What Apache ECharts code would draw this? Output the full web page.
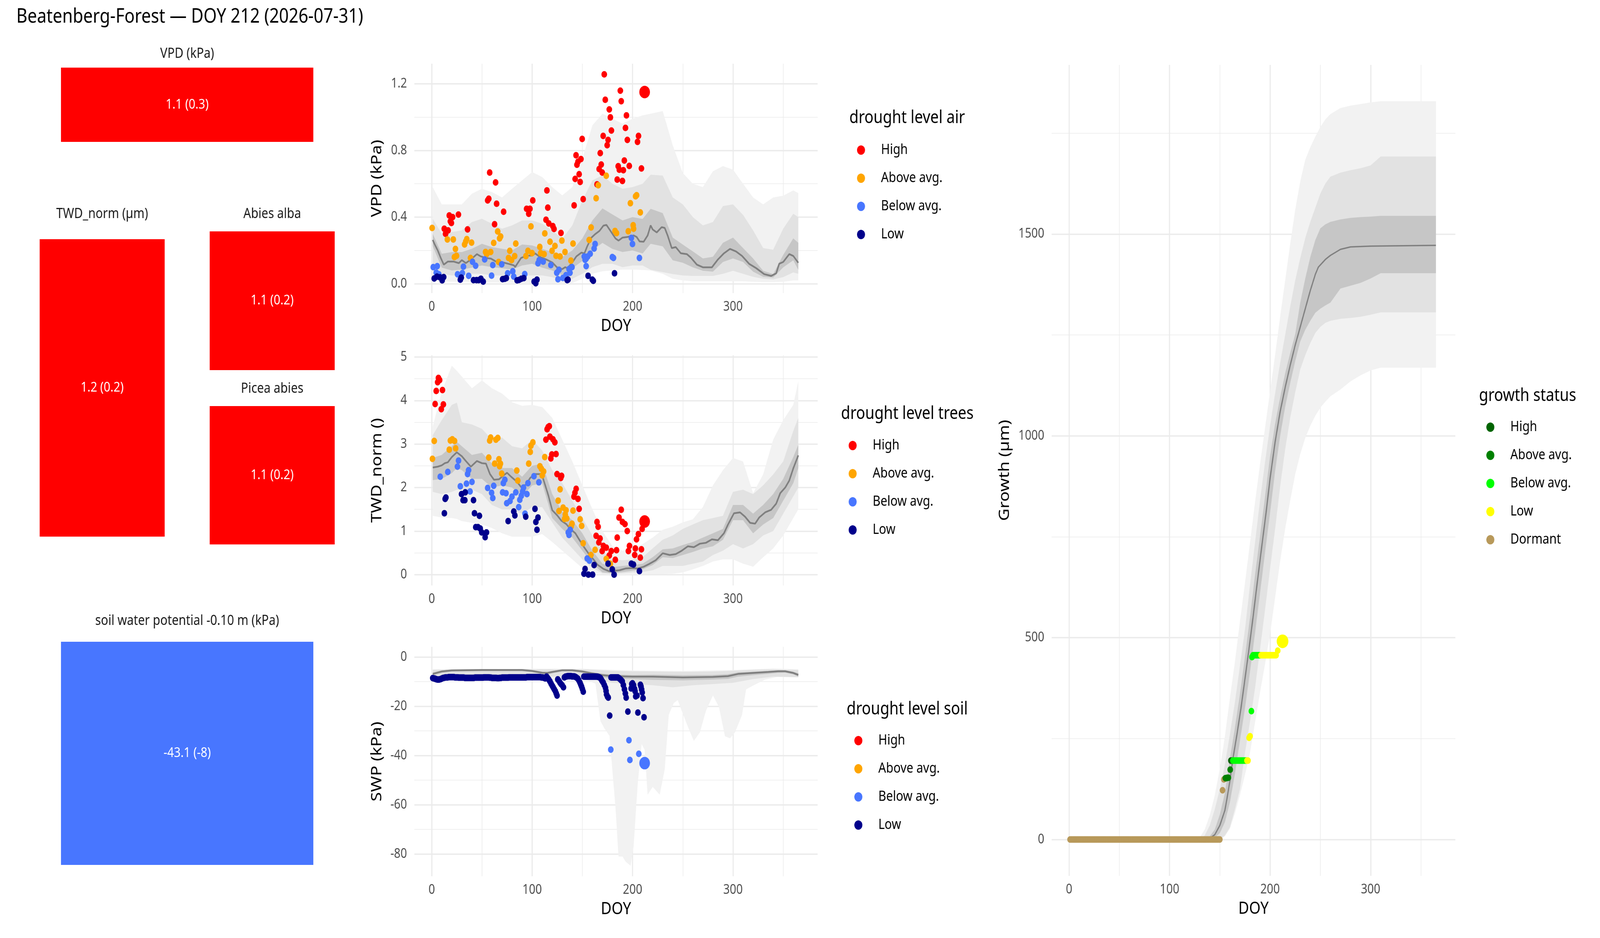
<!DOCTYPE html>
<html>
<head>
<meta charset="utf-8">
<title>Beatenberg-Forest DOY 212</title>
<script src="https://cdn.jsdelivr.net/npm/echarts@6/dist/echarts.min.js"></script>
<style>
  html, body { margin: 0; padding: 0; background: #fff; overflow: hidden; }
  #chart { width: 4800px; height: 2400px; transform-origin: 0 0; }
</style>
</head>
<body>
<div id="chart"></div>
<script type="text/javascript">
// ---------------- data ----------------
var mainTitle = 'Beatenberg-Forest \u2014 DOY 212 (2026-07-31)';
var levelNames = ['High', 'Above avg.', 'Below avg.', 'Low'];
var levelColors = ['#FF0000', '#FFA500', '#4876FF', '#00008B'];
var growthNames = ['High', 'Above avg.', 'Below avg.', 'Low', 'Dormant'];
var growthColors = ['#006400', '#008000', '#00FF00', '#FFFF00', '#B8995A'];

// tiles (left block)
var tileTitles = ['VPD (kPa)', 'TWD_norm (\u00b5m)', 'Abies alba', 'Picea abies', 'soil water potential -0.10 m (kPa)'];
var tileTexts = ['1.1 (0.3)', '1.2 (0.2)', '1.1 (0.2)', '1.1 (0.2)', '-43.1 (-8)'];
var tileColors = ['#FF0000', '#FF0000', '#FF0000', '#FF0000', '#4876FF'];

// tick values
var doyTicks = [0, 100, 200, 300];
var doyMinor = [50, 150, 250, 350];
var vpdTicks = [0, 0.4, 0.8, 1.2], vpdMinor = [0.2, 0.6, 1.0];
var twdTicks = [0, 1, 2, 3, 4, 5], twdMinor = [0.5, 1.5, 2.5, 3.5, 4.5];
var swpTicks = [-80, -60, -40, -20, 0], swpMinor = [-70, -50, -30, -10];
var grTicks = [0, 500, 1000, 1500], grMinor = [250, 750, 1250, 1750];

// VPD points [doy, kPa]
var vpdHigh = [[12.5,0.33],[13.8,0.30],[16.3,0.32],[17.5,0.41],[18.6,0.375],[19.6,0.365],[20.8,0.40],[26.6,0.415],[35.7,0.326],
  [55.7,0.50],[56.8,0.51],[57.7,0.667],[62.6,0.357],[63.6,0.608],[64.6,0.48],[71.6,0.432],
  [94.5,0.45],[96.6,0.42],[97.8,0.45],[100.6,0.50],[113.8,0.384],[114.7,0.56],[115.6,0.457],[116.6,0.362],[120.6,0.346],[121.8,0.329],[128.7,0.305],
  [141.8,0.47],[142.8,0.629],[143.7,0.771],[144.6,0.714],[145.6,0.732],[146.8,0.657],[147.8,0.611],[148.6,0.748],[149.8,0.869],[150.8,0.508],
  [164.6,0.596],[166.7,0.688],[167.8,0.784],[168.8,0.715],[169.8,0.667],[170.7,0.887],[171.8,1.256],[172.8,1.104],[174.7,0.831],[175.6,0.863],[176.8,1.046],[177.9,0.998],[178.9,0.919],
  [184.7,0.625],[185.7,0.705],[186.8,0.684],[187.8,1.158],[188.7,1.095],[189.9,0.617],[190.8,0.681],[191.8,0.739],[192.9,0.935],[193.9,1.01],[194.8,0.863],[196.7,0.707],
  [204.9,0.851],[205.9,0.887],[208.8,0.692]];
var vpdAbove = [[0.4,0.335],[15.6,0.266],[21.5,0.266],[22.6,0.16],[23.6,0.209],[24.7,0.168],[32.7,0.236],[33.9,0.254],[34.9,0.268],[38.6,0.155],[39.7,0.247],
  [53.6,0.191],[54.7,0.178],[58.7,0.191],[61.7,0.245],[65.7,0.314],[66.6,0.131],[67.6,0.272],[68.6,0.284],
  [76.5,0.155],[77.7,0.198],[79.5,0.142],[82.6,0.166],[83.7,0.241],[93.8,0.166],[95.8,0.198],[98.8,0.344],[99.9,0.184],
  [107.6,0.221],[108.5,0.184],[111.9,0.178],[112.6,0.302],[117.8,0.252],[119.8,0.198],[122.7,0.227],[123.8,0.168],[127.8,0.164],[129.6,0.259],[132.7,0.191],[138.6,0.139],[140.7,0.241],
  [156.8,0.263],[158.7,0.338],[163.7,0.513],[165.8,0.591],[173.8,0.648],[182.5,0.317],[184,0.304],[195.7,0.315],[197.8,0.483],[200.6,0.351],[201,0.33],[203,0.525],[204,0.531],[207.7,0.428]];
var vpdBelow = [[1.5,0.10],[4.5,0.067],[5.5,0.106],[7.1,0.057],[25.7,0.057],[30.5,0.064],[31.6,0.103],[36.8,0.048],[40.6,0.132],[43.7,0.108],
  [52.7,0.146],[59.6,0.049],[60.8,0.112],[69.7,0.117],[75.6,0.063],[80.7,0.075],[81.7,0.043],[92.6,0.058],
  [105.8,0.123],[107,0.142],[111,0.133],[118.6,0.112],[124.5,0.066],[125.7,0.027],[126.7,0.084],[130.6,0.035],[133.7,0.052],[136.7,0.088],[137.7,0.066],[139.7,0.10],
  [151.9,0.164],[152.7,0.144],[153.8,0.151],[153.8,0.106],[155.3,0.164],[157.8,0.18],[161.7,0.211],[162.7,0.239],[179.8,0.16],[181,0.155],[198.8,0.275],[199.9,0.239],[206.8,0.155]];
var vpdLow = [[2.5,0.032],[5.2,0.043],[8.2,0.039],[10.4,0.021],[11.9,0.04],[28.5,0.025],[29.4,0.037],[41.6,0.022],[44.6,0.022],[46.8,0.022],[49,0.03],[51.3,0.013],
  [70.6,0.028],[72.8,0.03],[74.3,0.034],[85,0.021],[86.9,0.023],[89.2,0.03],[91.7,0.034],[102,0.013],[103.6,0.003],[104.8,0.025],
  [134.9,0.022],[135.7,0.025],[155.7,0.048],[159.9,0.025],[160.9,0.018],[182,0.063]];
var vpdToday = [[212,1.15]];

// VPD climatology: median and bands
var vpdMedDoy = [1,3,6,9,12,16,22,27,30,34,39,45,49,54,59,64,71,77,82,83,89,95,100,103,108,114,120,125,130,133,135,140,144,149,152,155,159,163,167,171,174,178,183,186,190,195,201,204,207,211,215,218,220,224,229,232,235,239,243,248,254,258,264,270,279,285,291,297,303,309,316,323,331,338,343,346,350,356,360,365];
var vpdMed = [0.263,0.236,0.20,0.155,0.115,0.133,0.133,0.124,0.142,0.124,0.146,0.178,0.164,0.155,0.151,0.133,0.128,0.119,0.11,0.10,0.155,0.169,0.169,0.182,0.16,0.146,0.128,0.097,0.088,0.10,0.093,0.128,0.164,0.187,0.182,0.227,0.277,0.299,0.317,0.349,0.353,0.317,0.272,0.259,0.277,0.281,0.29,0.281,0.254,0.252,0.29,0.35,0.326,0.308,0.34,0.335,0.288,0.214,0.22,0.183,0.178,0.157,0.115,0.099,0.099,0.146,0.183,0.209,0.194,0.167,0.12,0.094,0.058,0.047,0.063,0.12,0.131,0.178,0.167,0.126];
var vpdBandDoy = [1,10,20,30,40,50,60,70,80,90,100,110,120,130,140,150,160,170,180,190,200,210,218,230,240,250,260,270,280,290,300,310,320,330,340,350,360,365];
var vpdInHi = [0.30,0.18,0.19,0.19,0.21,0.24,0.22,0.21,0.20,0.236,0.23,0.21,0.19,0.16,0.20,0.272,0.38,0.452,0.416,0.38,0.40,0.389,0.45,0.424,0.277,0.235,0.194,0.152,0.162,0.246,0.277,0.214,0.152,0.078,0.058,0.173,0.272,0.246];
var vpdInLo = [0.227,0.097,0.08,0.085,0.097,0.11,0.10,0.093,0.085,0.11,0.12,0.097,0.08,0.052,0.093,0.137,0.20,0.245,0.209,0.191,0.20,0.182,0.24,0.225,0.141,0.126,0.099,0.078,0.073,0.131,0.152,0.131,0.073,0.042,0.037,0.099,0.141,0.084];
var vpdMidHi = [0.39,0.30,0.31,0.32,0.37,0.39,0.36,0.33,0.35,0.38,0.38,0.36,0.32,0.27,0.35,0.50,0.62,0.65,0.60,0.57,0.58,0.60,0.654,0.649,0.518,0.476,0.40,0.35,0.37,0.466,0.476,0.413,0.32,0.214,0.204,0.33,0.42,0.40];
var vpdMidLo = [0.09,0.06,0.05,0.05,0.06,0.06,0.05,0.05,0.04,0.05,0.05,0.05,0.04,0.02,0.03,0.06,0.10,0.12,0.12,0.10,0.11,0.11,0.084,0.07,0.058,0.05,0.047,0.047,0.047,0.06,0.078,0.06,0.042,0.03,0.026,0.04,0.068,0.06];
var vpdOutHi = [0.58,0.476,0.476,0.476,0.54,0.57,0.55,0.518,0.57,0.62,0.67,0.64,0.58,0.53,0.58,0.75,0.95,1.02,0.99,0.96,0.99,1.01,1.02,1.036,0.83,0.664,0.60,0.58,0.675,0.706,0.685,0.60,0.518,0.476,0.518,0.528,0.56,0.544];
var vpdOutLo = [0.02,0.015,0.012,0.012,0.012,0.01,0.008,0.008,0.006,0.005,0.005,0.005,0.003,0.0,0.005,0.03,0.06,0.075,0.08,0.085,0.085,0.083,0.08,0.06,0.03,0.02,0.015,0.015,0.015,0.015,0.015,0.015,0.012,0.01,0.01,0.012,0.02,0.02];

// TWD points [doy, TWD_norm]
var twdHigh = [[3.4,3.92],[4.5,4.22],[5.9,4.42],[6.7,4.52],[7.9,4.47],[9.5,3.80],[10.7,4.24],[11.6,3.91],
  [113.7,3.10],[114.9,3.34],[115.9,3.39],[117.1,3.41],[117.7,3.17],[118.6,2.67],[119.6,2.76],[120.7,3.11],[122.6,3.04],[123.8,2.77],[124.8,2.31],[128.5,2.22],[129.3,2.27],
  [141.6,1.79],[142.6,1.88],[143.8,1.97],[145.6,1.74],[146.8,1.51],
  [163.7,0.89],[164.6,1.21],[165.7,1.10],[166.4,0.74],[167.6,0.83],[169.7,0.54],[170.9,0.66],[173.8,0.62],[176.8,0.44],[178.8,0.54],[182.8,0.34],[184,0.56],[184.7,0.85],
  [186.5,1.31],[188.7,1.49],[189.9,1.21],[192.4,1.16],[194.7,1.00],[195.8,0.54],[196.9,0.66],[202.1,0.45],[202.8,0.60],[203.9,0.81],[205.8,0.93],[207.7,0.39],[208.8,0.58],[209.5,1.05]];
var twdAbove = [[0.7,2.66],[2.5,3.07],[17.5,2.87],[18.6,3.08],[20.5,3.11],[22.7,3.07],[23.8,2.90],
  [56.8,2.69],[57.7,3.08],[58.7,3.15],[62.7,2.55],[63.9,3.10],[65.8,3.14],[66.9,2.65],[67.6,2.49],[68.4,2.55],[69.7,2.32],
  [84.7,2.39],[85.7,2.16],[96.6,2.55],[98.1,2.82],[98.8,2.96],[100.7,3.04],[107.7,2.49],[109.2,2.43],[110,2.28],[111.4,2.37],[112.6,2.70],
  [125.9,1.70],[126.7,1.46],[127.8,1.96],[130.8,1.54],[132.2,1.28],[133,1.38],[133.7,1.48],[134.5,1.29],[138.9,1.11],[139.7,1.17],[140.7,1.47],[147.8,1.27],[149.3,1.12],[150.8,0.72],
  [158.5,0.45],[162.7,0.57],[173.8,0.36],[177.9,0.25]];
var twdBelow = [[8.5,2.25],[16,2.36],[25.6,2.48],[26.7,2.62],[28.5,2.03],[34.6,2.09],[35.7,2.31],[36.7,2.40],[38.2,1.91],[40.1,2.13],
  [55.7,1.99],[59.6,1.88],[60.8,1.76],[61.7,2.04],[70.6,1.89],[71.3,2.10],[72.8,2.18],[74,1.87],[74.7,1.64],[78,1.69],[79.9,1.79],[83.7,1.89],
  [86.6,1.55],[87.7,1.72],[89.2,1.81],[90.6,1.91],[91.4,2.0],[92.9,1.40],[94.8,1.85],[95.8,2.10],[101.8,2.26],[106.7,2.12],
  [136,0.97],[136.7,0.91],[137.9,1.03],[154.8,0.37],[157,0.32]];
var twdLow = [[12.6,1.41],[13.4,1.74],[14.1,1.77],[29.7,1.85],[31.2,1.71],[33,1.71],[33.4,1.89],[41.6,1.71],[42.6,1.41],[43.8,1.09],[46.1,1.09],[47.5,1.35],[48.3,1.06],[49.8,0.97],[53.2,0.86],[54.5,0.97],
  [76.1,1.23],[81.7,1.45],[82.8,1.36],[93.6,1.33],[102.8,1.51],[103.7,1.21],[104.8,1.03],[105.8,1.31],
  [151.6,0.02],[152.7,0.13],[156,0.0],[160.2,0.0],[161.7,0.22],[175.6,0.25],[179.8,0.12],[181.6,0.0],[198.8,0.25],[200.9,0.23],[206.8,0.08]];
var twdToday = [[212,1.22]];

var twdMedDoy = [1,6,10,13,16,20,25,30,34,39,45,50,54,58,62,67,71,75,79,85,89,94,98,103,109,111,116,120,125,129,134,138,143,147,152,156,161,165,171,177,183,187,193,199,205,211,217,223,230,237,243,249,255,261,267,273,279,285,291,295,301,307,312,317,322,326,332,338,343,347,352,356,360,365];
var twdMed = [2.46,2.48,2.51,2.56,2.58,2.70,2.81,2.72,2.61,2.48,2.61,2.56,2.55,2.31,2.18,2.19,2.27,2.34,2.25,2.13,2.01,2.07,2.22,2.31,2.31,2.20,1.83,1.48,1.36,1.24,1.16,1.05,0.95,0.80,0.62,0.49,0.35,0.23,0.13,0.075,0.09,0.10,0.14,0.15,0.14,0.18,0.25,0.33,0.49,0.45,0.47,0.55,0.65,0.63,0.71,0.73,0.81,0.79,0.95,1.15,1.41,1.43,1.33,1.19,1.17,1.31,1.43,1.49,1.63,1.87,2.00,2.16,2.44,2.74];
var twdBandDoy = [1,10,20,25,30,40,50,60,70,80,90,100,110,120,130,140,150,160,170,180,190,200,210,220,230,240,250,260,270,280,290,300,310,320,330,340,350,360,365];
var twdInHi = [2.68,2.75,2.95,3.05,2.95,2.75,2.80,2.55,2.45,2.45,2.25,2.50,2.55,1.85,1.45,1.25,0.95,0.55,0.25,0.17,0.20,0.22,0.25,0.40,0.58,0.60,0.68,0.75,0.85,0.95,1.05,1.60,1.60,1.40,1.60,1.85,2.20,2.70,2.98];
var twdInLo = [2.17,2.20,2.33,2.45,2.40,2.20,2.20,2.00,2.05,2.00,1.80,2.05,2.10,1.30,1.05,0.85,0.55,0.25,0.05,0.03,0.06,0.09,0.12,0.22,0.40,0.38,0.45,0.52,0.60,0.65,0.80,1.25,1.25,0.95,1.15,1.30,1.70,2.10,2.45];
var twdMidHi = [3.2,3.55,3.9,3.95,3.5,3.45,3.35,3.1,3.15,2.95,2.9,3.1,2.85,2.4,2.1,1.7,1.3,0.9,0.55,0.35,0.33,0.35,0.4,0.6,0.8,0.9,1.05,1.15,1.25,1.3,1.35,1.9,1.95,1.85,2.05,2.3,2.6,3.3,3.6];
var twdMidLo = [1.9,1.85,1.9,1.95,1.95,1.95,1.85,1.6,1.5,1.5,1.4,1.55,1.55,1.2,0.85,0.6,0.35,0.15,0.03,0.02,0.03,0.05,0.06,0.1,0.2,0.2,0.2,0.25,0.3,0.45,0.55,0.7,0.6,0.7,0.9,1.0,1.4,1.8,2.0];
var twdOutHi = [3.4,4.2,4.8,4.68,4.55,4.28,4.46,4.28,4.16,3.96,3.88,3.9,3.85,3.6,3.1,2.6,2.05,1.5,1.0,0.65,0.55,0.59,0.7,0.85,1.03,1.1,1.2,1.27,1.55,2.05,2.4,2.68,2.6,1.87,2.3,3.1,3.55,3.9,4.44];
var twdOutLo = [1.35,1.31,1.3,1.28,1.23,1.19,1.15,1.07,0.95,0.87,0.87,0.87,0.93,0.75,0.55,0.35,0.15,0.05,0.01,0.0,0.0,0.0,0.01,0.01,0.01,0.02,0.05,0.12,0.2,0.3,0.35,0.35,0.25,0.18,0.4,0.6,0.9,1.3,1.5];

// soil water potential points: daily plateau DOY 1..113, then drying runs [doy, kPa]
var swpLowPlateau = [-8.6,-8.7,-8.8,-9.0,-9.1,-9.2,-9.2,-9.1,-9.0,-8.8,
  -8.6,-8.5,-8.4,-8.3,-8.3,-8.3,-8.2,-8.2,-8.2,-8.2,
  -8.2,-8.2,-8.3,-8.3,-8.3,-8.3,-8.4,-8.4,-8.4,-8.4,
  -8.4,-8.4,-8.5,-8.5,-8.5,-8.5,-8.5,-8.5,-8.5,-8.5,
  -8.5,-8.5,-8.4,-8.4,-8.4,-8.4,-8.4,-8.4,-8.4,-8.4,
  -8.4,-8.3,-8.3,-8.3,-8.3,-8.3,-8.3,-8.4,-8.4,-8.5,
  -8.5,-8.5,-8.5,-8.5,-8.6,-8.6,-8.6,-8.5,-8.5,-8.4,
  -8.4,-8.4,-8.4,-8.4,-8.4,-8.4,-8.3,-8.3,-8.3,-8.3,
  -8.3,-8.3,-8.3,-8.3,-8.3,-8.3,-8.3,-8.3,-8.3,-8.3,
  -8.3,-8.3,-8.3,-8.3,-8.2,-8.2,-8.2,-8.2,-8.2,-8.2,
  -8.2,-8.2,-8.2,-8.2,-8.2,-8.2,-8.2,-8.2,-8.3,-8.3,
  -8.4,-8.5,-8.7];
var swpLowDrops = [[114.4,-8.0],[115.5,-8.6],[116.6,-9.2],[117.7,-9.9],[118.8,-10.8],[119.9,-11.6],[120.9,-12.3],[122.0,-13.1],[123.1,-13.9],[124.0,-14.8],[124.8,-15.7],
  [125.5,-9.1],[126.6,-9.7],[127.7,-10.4],[128.8,-11.0],[129.9,-11.5],[131.2,-12.3],
  [132.1,-8.3],[133.2,-8.0],[134.3,-7.9],[135.4,-7.8],[136.5,-7.8],[137.6,-7.8],[138.7,-7.8],[139.8,-7.9],[140.9,-7.9],[142.0,-7.9],[143.1,-8.1],[144.2,-8.4],[145.4,-8.8],[146.5,-9.5],[147.6,-10.4],[148.4,-11.2],[149.2,-12.0],[150.0,-13.0],[150.9,-14.1],
  [151.5,-8.0],[152.6,-8.0],[153.7,-8.0],[154.8,-8.0],[155.9,-8.0],[157.0,-8.0],[158.1,-8.0],[159.2,-8.0],[160.3,-8.0],[161.4,-8.0],[162.5,-8.0],[163.6,-8.0],[164.7,-8.0],[165.8,-8.1],[166.9,-8.3],[168.0,-8.6],[168.9,-9.2],[169.8,-9.8],[170.8,-10.4],[171.9,-11.4],[173.0,-12.5],[173.6,-13.8],[174.1,-15.2],[175.0,-16.1],[175.8,-16.5],
  [177.2,-23.8],
  [178.6,-8.3],[179.7,-8.3],[180.8,-8.3],[181.9,-8.3],[183.0,-8.3],[184.1,-8.3],[185.3,-8.3],[186.4,-8.6],[187.5,-9.0],[188.6,-9.4],[189.7,-9.9],[190.8,-11.4],[191.9,-13.1],[192.8,-14.8],[193.6,-16.5],
  [195.3,-22.2],
  [198.6,-12.8],[199.2,-11.0],[199.9,-10.7],[201.0,-11.5],[202.0,-13.0],[202.5,-13.9],[203.1,-16.0],[204.4,-15.7],
  [205.3,-22.6],
  [207.8,-11.3],[208.4,-12.0],[209.0,-13.2],[209.6,-14.4],[210.4,-16.7],
  [211.4,-24.5]];
var swpBelow = [[178.3,-37.6],[196.4,-33.8],[197.3,-41.8],[206.2,-39.3]];
var swpToday = [[212,-43.1]];

var swpMedDoy = [1,10,20,50,90,100,110,115,120,130,140,150,160,170,180,200,220,250,280,295,305,320,335,345,352,360,365];
var swpMed = [-6.9,-5.9,-5.45,-5.3,-5.3,-5.7,-6.4,-6.5,-6.1,-5.4,-5.4,-5.9,-6.7,-7.4,-7.8,-8.0,-8.0,-8.3,-8.1,-7.8,-6.9,-6.5,-6.1,-5.8,-5.8,-6.5,-7.3];
var swpInHi = [-6.3,-5.5,-5.1,-5.0,-5.0,-5.3,-6.0,-6.1,-5.7,-5.1,-5.1,-5.5,-6.2,-6.8,-7.1,-7.3,-7.2,-7.4,-7.3,-7.0,-6.3,-6.0,-5.7,-5.4,-5.4,-6.0,-6.6];
var swpInLo = [-7.6,-6.5,-6.0,-5.8,-5.8,-6.2,-7.0,-7.1,-6.7,-5.9,-5.9,-6.5,-7.4,-8.3,-8.8,-9.0,-9.3,-9.5,-9.2,-8.9,-8.0,-7.4,-6.9,-6.5,-6.4,-7.1,-8.0];
var swpMidDoy = [1,50,100,150,165,180,200,220,240,260,280,300,320,340,365];
var swpMidHi = [-5.2,-4.9,-5.0,-5.0,-5.3,-5.6,-5.8,-5.9,-6.0,-6.0,-5.9,-5.6,-5.2,-5.0,-5.3];
var swpMidLo = [-8.5,-8.0,-8.0,-8.0,-9.5,-10.5,-11,-11.5,-12.3,-11.5,-11,-10.5,-9,-8,-8.2];
var swpOutHiDoy = [1,100,150,200,250,300,340,365];
var swpOutHi = [-5.0,-4.8,-4.8,-5.5,-5.7,-5.3,-4.7,-5.0];
var swpOutLoDoy = [1,20,50,100,120,140,155,163,168,172,177,183,186,190,193,198,201,205,209,212,215,220,227,232,236,241,245,249,255,261,267,273,280,286,292,297,302,309,313,320,332,344,365];
var swpOutLo = [-9.5,-9.2,-9.2,-9.2,-9.5,-9.2,-9.5,-10.8,-26,-29,-32,-61,-81,-81,-83,-84.7,-77,-52,-35.3,-37.7,-55.9,-52.7,-55.9,-45.6,-23.5,-18.7,-17.5,-21.9,-28.2,-34.1,-30.6,-21.9,-15.6,-20.3,-32.2,-33,-30.6,-23.5,-13.2,-11.6,-9.2,-8.1,-8.3];

// growth points [doy, um]
var growthDormantFlat = [0,0,0,0,0,0,0,0,0,0,0,0,0,0,0,0,0,0,0,0,0,0,0,0,0,0,0,0,0,0,
  0,0,0,0,0,0,0,0,0,0,0,0,0,0,0,0,0,0,0,0,0,0,0,0,0,0,0,0,0,0,
  0,0,0,0,0,0,0,0,0,0,0,0,0,0,0,0,0,0,0,0,0,0,0,0,0,0,0,0,0,0,
  0,0,0,0,0,0,0,0,0,0,0,0,0,0,0,0,0,0,0,0,0,0,0,0,0,0,0,0,0,0,
  0,0,0,0,0,0,0,0,0,0,0,0,0,0,0,0,0,0,0,0,0,0,0,0,0,0,0,0,0,0];
var growthDormantRise = [[152.7,122],[154,149]];
var growthHigh = [[161,195.5],[162,195.5]];
var growthAbove = [[155.5,152],[156.5,152],[157.5,153],[158.5,153],[160.3,173]];
var growthBelow = [[163,195.5],[164,195.5],[165,195.5],[166,195.5],[167,195.5],[168,195.5],[169,195.5],[170,195.5],[171,195.5],[172,195.5],[173,195.5],[174,195.5],[175,195.5],[176,195.5],
  [181.4,318],[182,452],[183,456.5],[184,456.5],[185,456.5],[186,456.5],[187,456.5],[188,456.5],[189,456.5],[190,456.5]];
var growthLow = [[177,195.5],[178,195.5],[179.1,252],[180.1,256],
  [191,456.5],[192,456.5],[193,456.5],[194,456.5],[195,456.5],[196,456.5],[197,456.5],[198,456.5],[199,456.5],[200,456.5],[201,456.5],[202,456.5],[203,456.5],[204,456.5],[205,456.5],[206,456.5],
  [207.6,468]];
var growthToday = [[212.4,491]];

var grMedDoy = [1,135,140,145,150,155,157,160,163,167,171,175,179,183,187,191.5,196,200,205,210,215,220,225,230,235,240,245,248,255,260,270,280,300,365];
var grMed = [0,0,3,12,35,72,100,145,200,260,325,398,472,550,632,722,810,895,985,1060,1120,1175,1225,1270,1315,1360,1400,1418,1437,1447,1462,1468,1470,1472];
var grBandDoy = [1,125,130,135,140,145,150,155,160,165,170,175,180,185,190,195,200,205,210,215,220,225,230,235,240,245,250,255,260,270,280,290,300,310,365];
var grInHi = [0,0,0,0,8,25,62,115,200,277,360,453,550,655,752,850,950,1030,1095,1155,1205,1252,1330,1390,1443,1485,1514,1524,1530,1536,1540,1542,1543,1545,1545];
var grInLo = [0,0,0,0,0,5,16,43,92,163,245,325,416,511,611,712,810,913,1000,1072,1131,1185,1234,1263,1285,1305,1315,1323,1330,1365,1372,1379,1390,1403,1403];
var grMidHi = [0,0,0,10,35,75,125,185,260,340,430,520,630,735,840,935,1025,1105,1180,1250,1320,1385,1440,1490,1530,1565,1600,1625,1642,1652,1658,1663,1670,1692,1692];
var grMidLo = [0,0,0,0,0,0,0,10,30,75,125,215,292,375,472,570,672,770,875,967,1045,1108,1165,1200,1230,1255,1270,1280,1285,1290,1292,1295,1300,1306,1306];
var grOutHi = [0,0,5,25,60,110,175,255,350,440,540,635,735,835,930,1020,1110,1200,1295,1385,1475,1560,1630,1684,1715,1741,1765,1784,1797,1812,1818,1822,1826,1829,1829];
var grOutLo = [0,0,0,0,0,0,0,8,27,65,110,160,215,290,365,435,510,600,690,770,840,905,955,995,1025,1050,1070,1085,1098,1115,1135,1150,1162,1169,1169];

// ---------------- chart ----------------
var FONT = 'Noto Sans';
var GRID_CLR = '#EBEBEB';
var BAND_CLR = ['#F2F2F2', '#E2E2E2', '#C6C6C6'];
var X_MIN = -17.3, X_MAX = 384.3;

// the layout is drawn on a 4800x2400 board; stretch the board to fill the window
var box = document.getElementById('chart');
var sx = window.innerWidth / 4800, sy = window.innerHeight / 2400;
if (Math.abs(sx - 1) > 0.001 || Math.abs(sy - 1) > 0.001) {
  box.style.transform = 'scale(' + sx + ',' + sy + ')';
}

function zip(xs, ys) {
  return xs.map(function (x, i) { return [x, ys[i]]; });
}

// polygon between an upper and a lower edge, placed via the axes
function band(ax, xsHi, hi, xsLo, lo, color) {
  return {
    type: 'custom', coordinateSystem: 'cartesian2d',
    xAxisIndex: ax, yAxisIndex: ax, silent: true, z: 1,
    data: zip(xsHi, hi),
    renderItem: function (params, api) {
      if (params.dataIndex !== 0) return null;
      var pts = [];
      for (var i = 0; i < xsHi.length; i++) pts.push(api.coord([xsHi[i], hi[i]]));
      for (var j = xsLo.length - 1; j >= 0; j--) pts.push(api.coord([xsLo[j], lo[j]]));
      return { type: 'polygon', shape: { points: pts }, style: { fill: color } };
    }
  };
}

function medLine(ax, xs, ys, w) {
  return {
    type: 'line', xAxisIndex: ax, yAxisIndex: ax, silent: true, symbol: 'none', z: 2,
    data: zip(xs, ys), lineStyle: { color: '#7F7F7F', width: w }
  };
}

function dots(ax, name, pts, color, size) {
  return {
    type: 'scatter', name: name, xAxisIndex: ax, yAxisIndex: ax, silent: true, z: 3,
    symbolSize: size, itemStyle: { color: color, opacity: 1 }, data: pts
  };
}

var plotGrids = [
  { left: 1243, top: 163, width: 1210, height: 587 },
  { left: 1243, top: 909, width: 1210, height: 589 },
  { left: 1243, top: 1655, width: 1210, height: 587 },
  { left: 3155, top: 166, width: 1211, height: 2075 }
];
var plotY = [
  { min: -0.056, max: 1.32, major: vpdTicks, minor: vpdMinor, name: 'VPD (kPa)', gap: 90, fmt: function (v) { return v.toFixed(1); } },
  { min: -0.25, max: 5.04, major: twdTicks, minor: twdMinor, name: 'TWD_norm ()', gap: 90, fmt: function (v) { return String(v); } },
  { min: -89, max: 4.1, major: swpTicks, minor: swpMinor, name: 'SWP (kPa)', gap: 90, fmt: function (v) { return String(v); } },
  { min: -90, max: 1919, major: grTicks, minor: grMinor, name: 'Growth (\u00b5m)', gap: 119, fmt: function (v) { return String(v); } }
];

var grids = [], xAxes = [], yAxes = [], series = [], titles = [], legends = [];

plotGrids.forEach(function (g, i) {
  grids.push({ left: g.left, top: g.top, width: g.width, height: g.height, containLabel: false, outerBoundsMode: 'none' });
  var y = plotY[i];
  // major axes
  xAxes.push({
    type: 'value', gridIndex: i, min: X_MIN, max: X_MAX,
    name: 'DOY', nameLocation: 'middle', nameGap: 62,
    nameTextStyle: { fontSize: 44, color: '#000', fontFamily: FONT },
    axisLine: { show: false }, axisTick: { show: false, customValues: doyTicks },
    axisLabel: { customValues: doyTicks, fontSize: 34, color: '#4D4D4D', margin: 18, fontFamily: FONT },
    splitLine: { show: true, lineStyle: { color: GRID_CLR, width: 3.4 } }
  });
  // minor gridlines
  xAxes.push({
    type: 'value', gridIndex: i, min: X_MIN, max: X_MAX,
    axisLine: { show: false }, axisTick: { show: false, customValues: doyMinor },
    axisLabel: { show: false },
    splitLine: { show: true, lineStyle: { color: GRID_CLR, width: 1.7 } }
  });
  yAxes.push({
    type: 'value', gridIndex: i, min: y.min, max: y.max,
    name: y.name, nameLocation: 'middle', nameGap: y.gap,
    nameTextStyle: { fontSize: 44, color: '#000', fontFamily: FONT },
    axisLine: { show: false }, axisTick: { show: false, customValues: y.major },
    axisLabel: { customValues: y.major, fontSize: 34, color: '#4D4D4D', margin: 22, fontFamily: FONT, formatter: y.fmt },
    splitLine: { show: true, lineStyle: { color: GRID_CLR, width: 3.4 } }
  });
  yAxes.push({
    type: 'value', gridIndex: i, min: y.min, max: y.max, position: 'left',
    axisLine: { show: false }, axisTick: { show: false, customValues: y.minor },
    axisLabel: { show: false },
    splitLine: { show: true, lineStyle: { color: GRID_CLR, width: 1.7 } }
  });
});

// panel 0: VPD
series.push(band(0, vpdBandDoy, vpdOutHi, vpdBandDoy, vpdOutLo, BAND_CLR[0]));
series.push(band(0, vpdBandDoy, vpdMidHi, vpdBandDoy, vpdMidLo, BAND_CLR[1]));
series.push(band(0, vpdBandDoy, vpdInHi, vpdBandDoy, vpdInLo, BAND_CLR[2]));
series.push(medLine(0, vpdMedDoy, vpdMed, 4.5));
[vpdHigh, vpdAbove, vpdBelow, vpdLow].forEach(function (d, k) {
  series.push(dots(0, levelNames[k], d, levelColors[k], 17));
});
series.push(dots(0, 'today', vpdToday, levelColors[0], 32));

// panel 1: TWD
series.push(band(2, twdBandDoy, twdOutHi, twdBandDoy, twdOutLo, BAND_CLR[0]));
series.push(band(2, twdBandDoy, twdMidHi, twdBandDoy, twdMidLo, BAND_CLR[1]));
series.push(band(2, twdBandDoy, twdInHi, twdBandDoy, twdInLo, BAND_CLR[2]));
series.push(medLine(2, twdMedDoy, twdMed, 4.5));
[twdHigh, twdAbove, twdBelow, twdLow].forEach(function (d, k) {
  series.push(dots(2, levelNames[k], d, levelColors[k], 17));
});
series.push(dots(2, 'today', twdToday, levelColors[0], 32));

// panel 2: soil water potential
series.push(band(4, swpOutHiDoy, swpOutHi, swpOutLoDoy, swpOutLo, BAND_CLR[0]));
series.push(band(4, swpMidDoy, swpMidHi, swpMidDoy, swpMidLo, BAND_CLR[1]));
series.push(band(4, swpMedDoy, swpInHi, swpMedDoy, swpInLo, BAND_CLR[2]));
series.push(medLine(4, swpMedDoy, swpMed, 4.5));
var swpLowPts = swpLowPlateau.map(function (v, i) { return [i + 1, v]; }).concat(swpLowDrops);
series.push(dots(4, 'Below avg.', swpBelow, levelColors[2], 17));
series.push(dots(4, 'Low', swpLowPts, levelColors[3], 17));
series.push(dots(4, 'today', swpToday, levelColors[2], 32));

// panel 3: growth
series.push(band(6, grBandDoy, grOutHi, grBandDoy, grOutLo, BAND_CLR[0]));
series.push(band(6, grBandDoy, grMidHi, grBandDoy, grMidLo, BAND_CLR[1]));
series.push(band(6, grBandDoy, grInHi, grBandDoy, grInLo, BAND_CLR[2]));
series.push(medLine(6, grMedDoy, grMed, 3.6));
var dormantPts = growthDormantFlat.map(function (v, i) { return [i + 1, v]; }).concat(growthDormantRise);
series.push(dots(6, 'Dormant', dormantPts, growthColors[4], 17));
[growthHigh, growthAbove, growthBelow, growthLow].forEach(function (d, k) {
  series.push(dots(6, growthNames[k], d, growthColors[k], 17));
});
series.push(dots(6, 'today', growthToday, growthColors[3], 35));

// tiles on the left: one full bar per small grid
var tileGrids = [
  { left: 183, top: 173, width: 757, height: 190 },
  { left: 119, top: 612, width: 375, height: 761 },
  { left: 629, top: 592, width: 375, height: 355 },
  { left: 629, top: 1039, width: 375, height: 354 },
  { left: 183, top: 1642, width: 757, height: 571 }
];
var tileTitleTop = [120, 530, 530, 977, 1571];
tileGrids.forEach(function (g, t) {
  var gi = grids.length;
  grids.push({ left: g.left, top: g.top, width: g.width, height: g.height, containLabel: false, outerBoundsMode: 'none' });
  xAxes.push({ type: 'category', gridIndex: gi, data: [tileTitles[t]], show: false });
  yAxes.push({ type: 'value', gridIndex: gi, min: 0, max: 1, show: false });
  series.push({
    type: 'bar', xAxisIndex: xAxes.length - 1, yAxisIndex: yAxes.length - 1, silent: true,
    barWidth: '100%', barCategoryGap: 0,
    data: [{ value: 1, itemStyle: { color: tileColors[t] } }],
    label: { show: true, position: 'inside', formatter: tileTexts[t], color: '#fff', fontSize: 35, fontFamily: FONT }
  });
  titles.push({
    text: tileTitles[t], left: g.left + g.width / 2, top: tileTitleTop[t], textAlign: 'center', padding: 0,
    textStyle: { fontSize: 36, fontWeight: 'normal', color: '#1A1A1A', fontFamily: FONT }
  });
});

titles.push({ text: mainTitle, left: 49, top: 18, padding: 0,
  textStyle: { fontSize: 51, fontWeight: 'normal', color: '#000', fontFamily: FONT } });

// legends: title text + vertical legend
var legendSpecs = [
  { title: 'drought level air', tx: 2548, ty: 280, lx: 2571, ly: 366, names: levelNames, colors: levelColors },
  { title: 'drought level trees', tx: 2523, ty: 1037, lx: 2546, ly: 1122, names: levelNames, colors: levelColors },
  { title: 'drought level soil', tx: 2540, ty: 1793, lx: 2563, ly: 1877, names: levelNames, colors: levelColors },
  { title: 'growth status', tx: 4437, ty: 991, lx: 4459, ly: 1075, names: growthNames, colors: growthColors }
];
legendSpecs.forEach(function (s) {
  titles.push({ text: s.title, left: s.tx, top: s.ty, padding: 0,
    textStyle: { fontSize: 45, fontWeight: 'normal', color: '#000', fontFamily: FONT } });
  legends.push({
    orient: 'vertical', left: s.lx, top: s.ly, padding: 0,
    itemWidth: 24, itemHeight: 24, itemGap: 36, icon: 'circle', selectedMode: false,
    textStyle: { fontSize: 36, color: '#000', fontFamily: FONT, padding: [0, 0, 0, 43] },
    data: s.names.map(function (n, i) { return { name: n, itemStyle: { color: s.colors[i] } }; })
  });
});

var chart = echarts.init(box);
chart.setOption({
  animation: false,
  backgroundColor: '#ffffff',
  textStyle: { fontFamily: FONT },
  title: titles,
  legend: legends,
  grid: grids,
  xAxis: xAxes,
  yAxis: yAxes,
  series: series
});
</script>
</body>
</html>
